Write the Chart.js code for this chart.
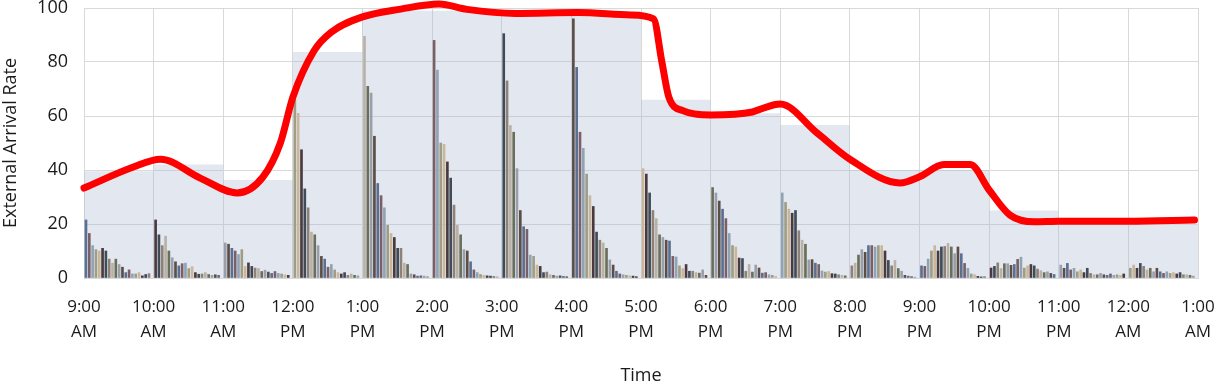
<!DOCTYPE html>
<html>
<head>
<meta charset="utf-8">
<script src="https://cdn.jsdelivr.net/npm/chart.js@4.4.1/dist/chart.umd.min.js"></script>
<style>
  html, body { margin: 0; padding: 0; background: #fff; }
</style>
</head>
<body>
<canvas id="arrivalCanvas" width="1223" height="387"></canvas>
<script>
// tick labels, one per hour (9 AM .. 1 AM)
const hourLabels = ['9:00', '10:00', '11:00', '12:00', '1:00', '2:00', '3:00', '4:00', '5:00',
                    '6:00', '7:00', '8:00', '9:00', '10:00', '11:00', '12:00', '1:00'];
const meridiem = ['AM', 'AM', 'AM', 'PM', 'PM', 'PM', 'PM', 'PM', 'PM',
                  'PM', 'PM', 'PM', 'PM', 'PM', 'PM', 'AM', 'AM'];

// hourly average (grey step area)
const hourlyRate = [39.5, 42, 36.3, 83.7, 99, 99, 99, 98, 66, 61, 56.7, 40, 40, 25, 19.7, 19.7];

// smoothed external arrival rate (red curve), x in hours after 9 AM
const curveHours = [0, 0.7, 1.1, 1.67, 2.2, 2.57, 2.82, 3.0, 3.3, 3.55, 4.0, 4.55, 5.1, 5.5, 6.2, 7.1,
                    7.85, 8.18, 8.3, 8.4, 8.6, 9.0, 9.6, 9.8, 10.0, 10.53, 11.0, 11.72, 12.0, 12.35,
                    12.73, 13.0, 13.3, 13.65, 14.0, 15.0, 15.95];
const curveRate = [33.3, 41, 44, 37, 31.5, 37.4, 50, 67, 84, 91, 96.7, 99.6, 101.5, 99.5, 98, 98.3,
                   97.4, 96, 80, 67, 62, 60.4, 61.5, 63.3, 64.4, 53.7, 44, 35.2, 37.5, 42,
                   42, 32.6, 23.3, 20.8, 21, 21, 21.5];

// individual arrivals per hour (small columns)
const bursts = [
  [21.5, 16.5, 12, 10.5, 10, 11, 10, 7, 5.5, 7, 5, 4, 2, 3, 1.5, 1.5, 2, 0.8, 1.3, 1.6],
  [21.5, 16, 12, 15.5, 10, 7.5, 6, 4.5, 5.3, 5.5, 3.5, 4.2, 2, 1.4, 1.5, 2, 1.3, 1, 1.2, 1],
  [13, 12.5, 11, 10, 8.7, 10.5, 4.3, 5.6, 4.3, 3.7, 3.5, 2.4, 2.9, 2.2, 1.7, 2.4, 1.7, 1.5, 1.2, 1],
  [66, 61, 47.5, 33, 26, 17, 16, 12, 8, 7, 4, 5, 3, 2, 1.5, 2, 1, 1.5, 1, 0.8],
  [89.5, 71, 68.5, 52.5, 35, 30.5, 26, 19.5, 16.5, 15, 11, 11, 5.5, 5, 1.5, 1.2, 0.7, 0.8, 0.7, 0.5],
  [88, 77, 50, 49.5, 43, 37, 27, 19.5, 16, 10.5, 10, 6, 3, 2, 1.3, 1, 0.8, 0.7, 0.6, 0.5],
  [90.5, 73, 56.5, 54, 40.5, 25, 19, 18, 8.5, 8, 4.8, 4.3, 2, 2.2, 1.2, 1, 0.7, 0.8, 0.6, 0.5],
  [96, 78, 54, 48, 38.5, 30.5, 26.5, 17, 14, 13, 11, 6.7, 4.8, 2.5, 1.5, 1.2, 1, 0.8, 0.7, 0.5],
  [40.5, 38.5, 31.5, 25, 22, 16, 15, 14, 13.7, 8, 7.8, 4.5, 3.5, 5, 2.5, 2.5, 2, 1.8, 3, 1],
  [33.5, 31.5, 28.5, 25.5, 22, 16.5, 12, 11.5, 7.4, 7.2, 2.5, 5, 2.2, 4.8, 3.7, 1.8, 2, 1.2, 1, 0.6],
  [31.5, 28, 25.5, 24, 25, 17.5, 14, 12.5, 6.7, 6.8, 5.5, 5, 2.6, 2.2, 2.4, 1.6, 1.5, 1.2, 1, 0.8],
  [4.5, 5.5, 8.5, 10.5, 9.5, 12, 12, 11.5, 12, 12, 10, 6.5, 4.5, 6.5, 3.5, 2.5, 1, 0.7, 0.5, 0.3],
  [4.5, 4.3, 7, 10, 12, 10, 11.5, 11.7, 12.8, 11.5, 9, 11.5, 9, 5.4, 3.6, 1.5, 1.2, 0.6, 0.4, 0.5],
  [3.7, 4.3, 5.6, 3.5, 5.3, 5.3, 4.7, 5, 6.9, 7.7, 3.7, 4.5, 5, 4.5, 3.3, 2.7, 2, 2.3, 1.7, 1.3],
  [4.8, 3.6, 5.4, 3, 3.6, 2.3, 3, 2, 3.6, 1.7, 1.2, 1.2, 1.7, 1.2, 1, 1.5, 1, 1.2, 1, 1.5],
  [3.6, 4.8, 3.6, 5.4, 4.3, 3, 3.6, 2.3, 3.6, 2.3, 1.7, 2.3, 1.7, 2, 1.5, 2, 1.2, 1.2, 1, 0.7]
];

// muted column colours
const barColors = ['#5a6f91', '#7a5f66', '#8fa3b5', '#a09d84', '#c9b79c', '#4b3a3d',
                   '#3f4b57', '#8d8178', '#b9b1a6', '#6b6f5a', '#9aa0ab', '#5c4d45'];

// build datasets from the arrays above
const stepData = hourlyRate.map((v, i) => ({ x: i, y: v }));
stepData.push({ x: hourlyRate.length, y: hourlyRate[hourlyRate.length - 1] });

const curveData = curveHours.map((h, i) => ({ x: h, y: curveRate[i] }));

const burstData = [];
const burstColors = [];
bursts.forEach((row, hour) => {
  row.forEach((v, i) => {
    burstData.push({ x: hour + (i + 0.6) / 21, y: v });
    burstColors.push(barColors[(i + hour * 5) % barColors.length]);
  });
});

const tickFont = { family: 'Open Sans', size: 17, lineHeight: 1.45 };

new Chart(document.getElementById('arrivalCanvas').getContext('2d'), {
  type: 'bar',
  data: {
    datasets: [
      {
        type: 'line',
        data: curveData,
        borderColor: '#ff0000',
        borderWidth: 7,
        borderCapStyle: 'round',
        borderJoinStyle: 'round',
        pointRadius: 0,
        cubicInterpolationMode: 'monotone',
        fill: false,
        clip: 8,
        order: 0
      },
      {
        type: 'bar',
        data: burstData,
        backgroundColor: burstColors,
        barThickness: 2,
        order: 1
      },
      {
        type: 'line',
        data: stepData,
        stepped: 'before',
        borderWidth: 0,
        pointRadius: 0,
        fill: 'origin',
        backgroundColor: 'rgba(170, 185, 210, 0.33)',
        order: 2
      }
    ]
  },
  options: {
    responsive: false,
    animation: false,
    devicePixelRatio: 1,
    layout: { padding: { top: 8, right: 25, left: 0, bottom: 0 } },
    plugins: {
      legend: { display: false },
      tooltip: { enabled: false }
    },
    scales: {
      x: {
        type: 'linear',
        min: 0,
        max: 16,
        offset: false,
        grid: { color: '#d9d9d9', offset: false, drawTicks: false },
        border: { color: '#d9d9d9' },
        ticks: {
          stepSize: 1,
          autoSkip: false,
          maxRotation: 0,
          padding: 17,
          color: '#1a1a1a',
          font: tickFont,
          callback: (v) => Number.isInteger(v) ? [hourLabels[v], meridiem[v]] : ''
        },
        title: {
          display: true,
          text: 'Time',
          color: '#1a1a1a',
          font: { family: 'Open Sans', size: 18 },
          padding: { top: 4, bottom: 0 }
        },
        afterFit: (scale) => {
          scale.height = 109;
          scale.paddingLeft = 0;
          scale.paddingRight = 0;
        }
      },
      y: {
        min: 0,
        max: 100,
        grid: { color: '#d9d9d9', drawTicks: false },
        border: { display: false },
        ticks: {
          stepSize: 20,
          padding: 16,
          color: '#1a1a1a',
          font: { family: 'Open Sans', size: 18 }
        },
        title: {
          display: true,
          text: 'External Arrival Rate',
          color: '#1a1a1a',
          font: { family: 'Open Sans', size: 18 },
          padding: { top: 0, bottom: 0 }
        },
        afterFit: (scale) => {
          scale.width = 84;
          scale.paddingTop = 0;
          scale.paddingBottom = 0;
        }
      }
    }
  }
});
</script>
</body>
</html>
